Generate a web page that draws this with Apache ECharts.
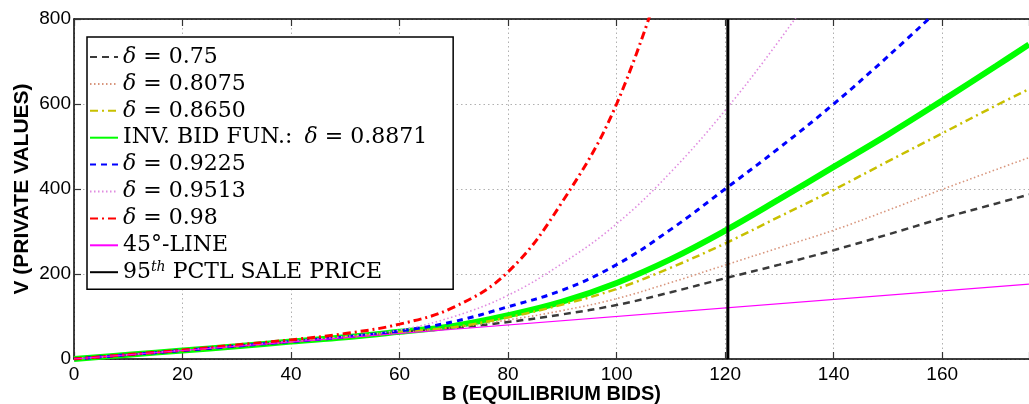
<!DOCTYPE html>
<html><head><meta charset="utf-8">
<script src="https://cdn.jsdelivr.net/npm/echarts@6/dist/echarts.min.js"></script>
<style>html,body{margin:0;padding:0;background:#fff}#c{width:1029px;height:404px}</style>
</head><body><div id="c"></div>
<script>
// Data
const bids     = [0, 10, 20, 30, 40, 50, 60, 70, 80, 90, 100, 110, 120, 130, 140, 150, 160, 170, 176];
const v0750    = [0, 10, 20, 30, 40.5, 51, 62, 73, 87, 105, 127, 157, 190, 222, 256, 293, 331, 366, 387];
const v08075   = [0, 10, 20, 30, 40.5, 51, 62, 74, 92, 114, 142, 180, 221, 262, 303, 350, 399, 446, 474];
const v08650   = [0, 10, 20, 30, 41, 51, 63, 75, 98, 128, 165, 215, 272, 335, 398, 465, 531, 597, 635];
const v08871   = [0, 10, 20, 30, 41, 51, 64, 78, 103, 135, 179, 235, 302, 376, 452, 528, 608, 690, 740];
const v09225   = [0, 10, 20, 30.5, 41, 52, 66, 88, 123, 162, 222, 305, 400, 497, 600, 712, 830, null, null];
const v09513   = [0, 10, 20.5, 31, 42, 53, 68, 100, 150, 225, 318, 440, 585, 750, 930, null, null, null, null];
const v0980    = [0, 10.5, 21, 33, 45, 60, 82, 122, 205, 370, 600, 960, null, null, null, null, null, null, null];
const lineB    = [0, 176];           // 45-degree line
const lineV    = [0, 176];
const pctlB    = [120.5, 120.5];     // 95th percentile sale price
const pctlV    = [0, 800];
const xTicks   = [0, 20, 40, 60, 80, 100, 120, 140, 160];
const yTicks   = [0, 200, 400, 600, 800];
const names = ['δ = 0.75', 'δ = 0.8075', 'δ = 0.8650', 'INV. BID FUN.: δ = 0.8871', 'δ = 0.9225', 'δ = 0.9513', 'δ = 0.98', '45°-LINE', '95th PCTL SALE PRICE'];

function pairs(xs, ys) { return xs.map((x, i) => ys[i] == null ? null : [x, ys[i]]).filter(p => p); }

const chart = echarts.init(document.getElementById('c'), null, {renderer: 'canvas'});
const curve = (name, vals, color, width, type, z) => ({
  name, type: 'line', data: pairs(bids, vals), smooth: 0.4, showSymbol: false, symbol: 'none',
  lineStyle: {color, width, type}, itemStyle: {color}, z: z || 3, clip: true
});
const axisCommon = {
  axisLine: {show: true, lineStyle: {color: '#000', width: 1.5}},
  axisTick: {show: true, inside: true, length: 7, lineStyle: {color: '#333', width: 1.2}}
};
const SERIF = 'DejaVu Serif';
chart.setOption({
  animation: false,
  backgroundColor: '#fff',
  grid: {left: 74, right: 0, top: 19, bottom: 45, containLabel: false, outerBoundsMode: 'none'},
  xAxis: [
    Object.assign({type: 'value', min: 0, max: 176, interval: 20, position: 'bottom',
      name: 'B (EQUILIBRIUM BIDS)', nameLocation: 'middle', nameGap: 25, nameMoveOverlap: false,
      nameTextStyle: {fontFamily: 'Liberation Sans', fontWeight: 'bold', fontSize: 20, color: '#000'},
      axisLabel: {fontFamily: 'Liberation Sans', fontSize: 19, color: '#000', margin: 6,
        formatter: v => xTicks.includes(v) ? String(v) : ''},
      splitLine: {show: true, lineStyle: {color: '#b0b0b0', type: [1.5, 3], width: 1}}}, axisCommon),
    Object.assign({type: 'value', min: 0, max: 176, interval: 20, position: 'top',
      axisLabel: {show: false}, splitLine: {show: false}}, axisCommon)
  ],
  yAxis: [
    Object.assign({type: 'value', min: 0, max: 800, interval: 200,
      name: 'V (PRIVATE VALUES)', nameLocation: 'middle', nameGap: 41, nameRotate: 90, nameMoveOverlap: false,
      nameTextStyle: {fontFamily: 'Liberation Sans', fontWeight: 'bold', fontSize: 21, color: '#000'},
      axisLabel: {fontFamily: 'Liberation Sans', fontSize: 19, color: '#000', margin: 3,
        formatter: v => yTicks.includes(v) ? String(v) : ''},
      splitLine: {show: true, lineStyle: {color: '#b0b0b0', type: [1.5, 3], width: 1}}}, axisCommon)
  ],
  legend: {
    orient: 'vertical', left: 87, top: 37, padding: [8, 26, 5, 2], itemGap: 2.9,
    itemWidth: 28, itemHeight: 14, borderColor: '#000', borderWidth: 1.5, backgroundColor: '#fff',
    itemStyle: {opacity: 0},
    data: names,
    textStyle: {fontFamily: SERIF, fontSize: 22, color: '#000', lineHeight: 24,
      rich: {
        i: {fontFamily: SERIF, fontSize: 22, fontStyle: 'italic', color: '#000', lineHeight: 24},
        ip: {fontFamily: SERIF, fontSize: 22, fontStyle: 'italic', color: '#000', lineHeight: 24, padding: [0, 0, 0, 12]},
        sup: {fontFamily: SERIF, fontSize: 14, fontStyle: 'italic', color: '#000', verticalAlign: 'top', lineHeight: 24, padding: [0, 0, 8, 0]},
        t: {fontFamily: SERIF, fontSize: 22, color: '#000', lineHeight: 24}
      }},
    formatter: function (name) {
      const k = name.indexOf('δ');
      if (k > 0) return '{t|' + name.slice(0, k - 1) + '}{ip|δ}{t|' + name.slice(k + 1) + '}';
      if (k === 0) return '{i|δ}{t|' + name.slice(1) + '}';
      if (name.indexOf('95th') === 0) return '{t|95}{sup|th}{t|' + name.slice(4) + '}';
      return '{t|' + name + '}';
    }
  },
  series: [
    curve(names[0], v0750, '#3a3a3a', 2.5, [7, 5]),
    curve(names[1], v08075, '#d8957c', 1.6, [1.5, 2.5]),
    curve(names[2], v08650, '#c8c000', 2.5, [8, 4, 2, 4]),
    curve(names[3], v08871, '#00ff00', 6, 'solid', 2),
    curve(names[4], v09225, '#0000ff', 3, [6, 5]),
    curve(names[5], v09513, '#e08ce0', 1.6, [1.5, 2.5]),
    curve(names[6], v0980, '#ff0000', 3, [8, 4, 2, 4]),
    {name: names[7], type: 'line', data: pairs(lineB, lineV), showSymbol: false, symbol: 'none',
      lineStyle: {color: '#ff00ff', width: 1.2}, itemStyle: {color: '#ff00ff'}, z: 3},
    {name: names[8], type: 'line', data: pairs(pctlB, pctlV), showSymbol: false, symbol: 'none',
      lineStyle: {color: '#000', width: 3}, itemStyle: {color: '#000'}, z: 4}
  ]
});
</script></body></html>
